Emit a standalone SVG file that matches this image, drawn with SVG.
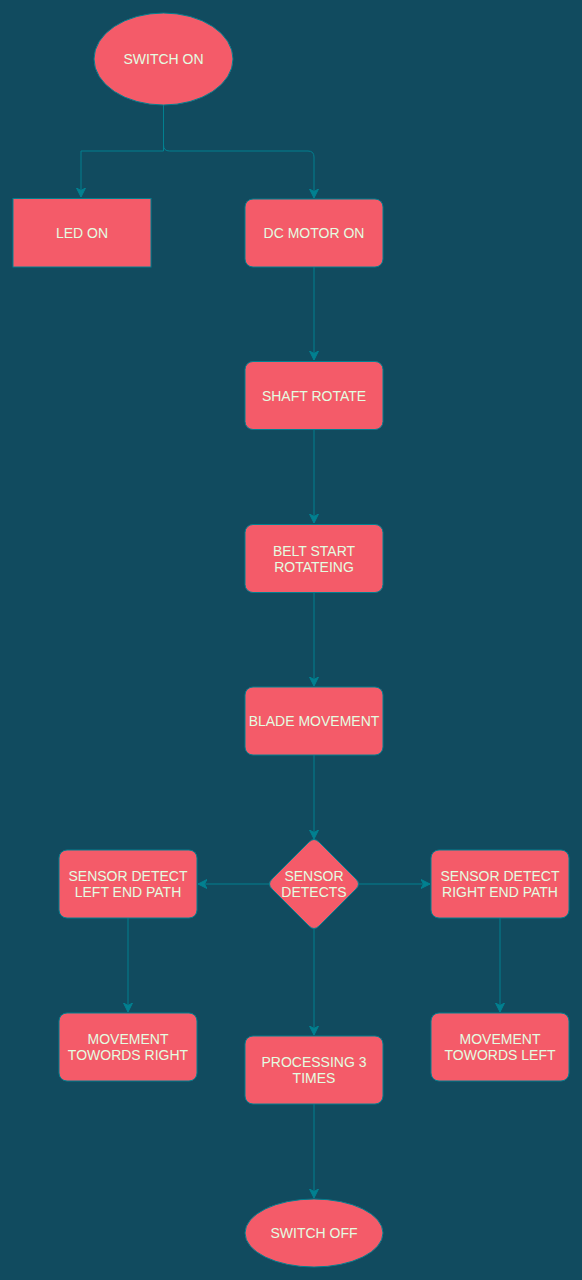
<svg xmlns="http://www.w3.org/2000/svg" width="582" height="1280" viewBox="0 0 582 1280">
<style>
.n{fill:#F45B69;stroke:#028090;stroke-width:1}
.t{fill:#E4FDE1;font-family:"Liberation Sans",Arial,sans-serif;font-size:14px;text-anchor:middle}
.c{fill:none;stroke:#028090;stroke-width:1}
</style>
<defs>
<marker id="a" viewBox="0 0 10 10" refX="9" refY="5" markerWidth="10" markerHeight="10" markerUnits="userSpaceOnUse" orient="auto">
<path d="M0,0.5 L9,5 L0,9.5 L2.5,5 Z" fill="#028090" stroke="#028090" stroke-width="1"/>
</marker>
</defs>
<rect width="582" height="1280" fill="#114B5F"/>
<g id="connectors">
<path class="c" d="M163.5,105 V151 H81 V197" marker-end="url(#a)"/>
<path class="c" d="M163.5,105 V145 Q163.5,151 169.5,151 H308 Q314,151 314,157 V198" marker-end="url(#a)"/>
<path class="c" d="M314,267 V360" marker-end="url(#a)"/>
<path class="c" d="M314,430 V523" marker-end="url(#a)"/>
<path class="c" d="M314,593 V686" marker-end="url(#a)"/>
<path class="c" d="M314,755 V839" marker-end="url(#a)"/>
<path class="c" d="M270,884 H198" marker-end="url(#a)"/>
<path class="c" d="M358,884 H430" marker-end="url(#a)"/>
<path class="c" d="M314,928 V1035" marker-end="url(#a)"/>
<path class="c" d="M128,918 V1012" marker-end="url(#a)"/>
<path class="c" d="M500,918 V1012" marker-end="url(#a)"/>
<path class="c" d="M314,1104 V1198" marker-end="url(#a)"/>
</g>
<g id="switch-on"><ellipse class="n" cx="163.5" cy="59" rx="69.5" ry="46"/><text class="t" x="163.5" y="64">SWITCH ON</text></g>
<g id="led-on"><rect class="n" x="13" y="198.5" width="138" height="68.5"/><text class="t" x="82" y="238">LED ON</text></g>
<g id="dc-motor-on"><rect class="n" x="245" y="199" width="138" height="68" rx="8"/><text class="t" x="314" y="238">DC MOTOR ON</text></g>
<g id="shaft-rotate"><rect class="n" x="245" y="361.5" width="138" height="68" rx="8"/><text class="t" x="314" y="401">SHAFT ROTATE</text></g>
<g id="belt-start"><rect class="n" x="245" y="524.5" width="138" height="68" rx="8"/><text class="t" x="314" y="556">BELT START</text><text class="t" x="314" y="572">ROTATEING</text></g>
<g id="blade-movement"><rect class="n" x="245" y="687" width="138" height="68" rx="8"/><text class="t" x="314" y="726">BLADE MOVEMENT</text></g>
<g id="sensor-detects"><path class="n" d="M309,842 Q314,837 319,842 L356,879 Q361,884 356,889 L319,926 Q314,931 309,926 L272,889 Q267,884 272,879 Z" stroke-linejoin="round"/><text class="t" x="314" y="881">SENSOR</text><text class="t" x="314" y="897">DETECTS</text></g>
<g id="sensor-left"><rect class="n" x="59" y="850" width="138" height="68" rx="8"/><text class="t" x="128" y="881">SENSOR DETECT</text><text class="t" x="128" y="897">LEFT END PATH</text></g>
<g id="sensor-right"><rect class="n" x="431" y="850" width="138" height="68" rx="8"/><text class="t" x="500" y="881">SENSOR DETECT</text><text class="t" x="500" y="897">RIGHT END PATH</text></g>
<g id="move-right"><rect class="n" x="59" y="1013" width="138" height="68" rx="8"/><text class="t" x="128" y="1044">MOVEMENT</text><text class="t" x="128" y="1060">TOWORDS RIGHT</text></g>
<g id="move-left"><rect class="n" x="431" y="1013" width="138" height="68" rx="8"/><text class="t" x="500" y="1044">MOVEMENT</text><text class="t" x="500" y="1060">TOWORDS LEFT</text></g>
<g id="processing"><rect class="n" x="245" y="1036" width="138" height="68" rx="8"/><text class="t" x="314" y="1067">PROCESSING 3</text><text class="t" x="314" y="1083">TIMES</text></g>
<g id="switch-off"><ellipse class="n" cx="314" cy="1233" rx="69" ry="34"/><text class="t" x="314" y="1238">SWITCH OFF</text></g>
</svg>
